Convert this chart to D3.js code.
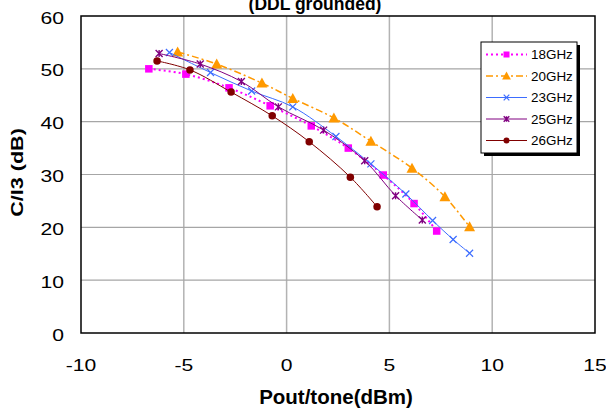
<!DOCTYPE html>
<html>
<head>
<meta charset="utf-8">
<script src="https://cdn.jsdelivr.net/npm/d3@7.9.0/dist/d3.min.js"></script>
<style>
  body { margin: 0; background: #fff; }
  svg { display: block; font-family: "Liberation Sans", Arial, sans-serif; }
</style>
</head>
<body>
<div id="chart"></div>
<script>
// --- data ---
const seriesNames = ['18GHz', '20GHz', '23GHz', '25GHz', '26GHz'];

const pout18 = [-6.7, -4.9, -2.8, -0.8, 1.2, 3.0, 4.7, 6.2, 7.3];
const ci18   = [50.0, 49.0, 46.4, 43.0, 39.2, 35.0, 29.9, 24.5, 19.3];

const pout20 = [-5.3, -3.4, -1.2, 0.3, 2.3, 4.1, 6.1, 7.7, 8.9];
const ci20   = [53.2, 50.9, 47.3, 44.4, 40.7, 36.3, 31.2, 25.8, 20.1];

const pout23 = [-5.7, -3.7, -1.7, 0.3, 2.4, 4.1, 5.8, 7.1, 8.1, 8.9];
const ci23   = [53.1, 49.3, 45.8, 42.8, 37.2, 32.0, 26.3, 21.3, 17.7, 15.1];

const pout25 = [-6.2, -4.2, -2.2, -0.4, 1.8, 3.8, 5.3, 6.6];
const ci25   = [52.9, 50.9, 47.6, 42.8, 38.4, 32.6, 26.0, 21.4];

const pout26 = [-6.3, -4.7, -2.7, -0.7, 1.1, 3.1, 4.4];
const ci26   = [51.5, 49.8, 45.6, 41.1, 36.2, 29.5, 23.9];

const xTicks = [-10, -5, 0, 5, 10, 15];
const yTicks = [0, 10, 20, 30, 40, 50, 60];

const title  = '(DDL grounded)';
const xTitle = 'Pout/tone(dBm)';
const yTitle = 'C/I3 (dB)';

// --- styling per series ---
const styles = [
  {color: '#ff00ff', width: 2,   dash: '2,3',     marker: 'square'},
  {color: '#ff9900', width: 1.5, dash: '7,3,2,3', marker: 'triangle'},
  {color: '#3d6dff', width: 1,   dash: null,      marker: 'x'},
  {color: '#800080', width: 1,   dash: null,      marker: 'star'},
  {color: '#800000', width: 1,   dash: null,      marker: 'circle'}
];

const series = [
  [pout18, ci18], [pout20, ci20], [pout23, ci23], [pout25, ci25], [pout26, ci26]
].map(([xs, ys], i) => ({
  name  : seriesNames[i],
  points: xs.map((x, j) => ({x, y: ys[j]})),
  ...styles[i]
}));

const W = 606, H = 410;
const P = {l: 81, r: 595, t: 16, b: 333};

const x = d3.scaleLinear().domain([-10, 15]).range([P.l, P.r]);
const y = d3.scaleLinear().domain([0, 60]).range([P.b, P.t]);

const svg = d3.select('#chart').append('svg')
  .attr('width', W).attr('height', H);

// gridlines
svg.append('g')
  .selectAll('line')
  .data(xTicks.slice(1, -1))
  .join('line')
    .attr('x1', d => x(d)).attr('x2', d => x(d))
    .attr('y1', P.t).attr('y2', P.b)
    .attr('stroke', '#b3b3b3').attr('stroke-width', 1.5);

svg.append('g')
  .selectAll('line')
  .data(yTicks.slice(1, -1))
  .join('line')
    .attr('x1', P.l).attr('x2', P.r)
    .attr('y1', d => y(d)).attr('y2', d => y(d))
    .attr('stroke', '#a6a6a6').attr('stroke-width', 1.2);

// plot frame
svg.append('rect')
  .attr('x', P.l).attr('y', P.t)
  .attr('width', P.r - P.l).attr('height', P.b - P.t)
  .attr('fill', 'none').attr('stroke', '#000').attr('stroke-width', 1.5);

// tick labels (the original text is a bit wide, hence the x-stretch)
const stretch = 1.32;
svg.append('g')
  .selectAll('text')
  .data(xTicks)
  .join('text')
    .attr('transform', d => `translate(${x(d)},371) scale(${stretch},1)`)
    .attr('text-anchor', 'middle')
    .attr('font-size', 16)
    .text(d => d);

svg.append('g')
  .selectAll('text')
  .data(yTicks)
  .join('text')
    .attr('transform', d => `translate(64,${y(d) + 7.5}) scale(${stretch},1)`)
    .attr('text-anchor', 'end')
    .attr('font-size', 16)
    .text(d => d);

// titles
svg.append('text')
  .attr('x', 315).attr('y', 9.5)
  .attr('text-anchor', 'middle')
  .attr('font-size', 17.5).attr('font-weight', 'bold')
  .text(title);

svg.append('text')
  .attr('x', 336).attr('y', 404)
  .attr('text-anchor', 'middle')
  .attr('font-size', 20.5).attr('font-weight', 'bold')
  .text(xTitle);

svg.append('text')
  .attr('transform', 'translate(23,172.5) rotate(-90) scale(1.27,1)')
  .attr('text-anchor', 'middle')
  .attr('font-size', 17).attr('font-weight', 'bold')
  .text(yTitle);

// markers
function drawMarker (g, type, color, s) {
  if (type === 'square') {
    g.append('rect').attr('x', -s / 2).attr('y', -s / 2)
      .attr('width', s).attr('height', s).attr('fill', color);
  } else if (type === 'triangle') {
    g.append('path').attr('d', `M0,${-s * 0.55}L${s * 0.55},${s * 0.45}L${-s * 0.55},${s * 0.45}Z`)
      .attr('fill', color);
  } else if (type === 'circle') {
    g.append('circle').attr('r', s / 2).attr('fill', color);
  } else if (type === 'x') {
    const h = s / 2;
    g.append('path').attr('d', `M${-h},${-h}L${h},${h}M${-h},${h}L${h},${-h}`)
      .attr('stroke', color).attr('stroke-width', 1.2).attr('fill', 'none');
  } else if (type === 'star') {
    const h = s / 2;
    g.append('path').attr('d', `M${-h},${-h}L${h},${h}M${-h},${h}L${h},${-h}M0,${-h}L0,${h}`)
      .attr('stroke', color).attr('stroke-width', 1.4).attr('fill', 'none');
  }
}

const markerSize = {square: 7.5, triangle: 10, x: 7, star: 7, circle: 7.5};

const line = d3.line()
  .x(d => x(d.x)).y(d => y(d.y))
  .curve(d3.curveCatmullRom.alpha(0.5));

const plot = svg.append('g');
series.forEach(s => {
  plot.append('path')
    .attr('d', line(s.points))
    .attr('fill', 'none')
    .attr('stroke', s.color)
    .attr('stroke-width', s.width)
    .attr('stroke-dasharray', s.dash);
  plot.append('g').selectAll('g')
    .data(s.points)
    .join('g')
      .attr('transform', d => `translate(${x(d.x)},${y(d.y)})`)
      .each(function () { drawMarker(d3.select(this), s.marker, s.color, markerSize[s.marker]); });
});

// legend
const L = {x: 481, y: 42, w: 96, h: 111};
const leg = svg.append('g');
leg.append('rect')
  .attr('x', L.x + 3).attr('y', L.y + 3).attr('width', L.w).attr('height', L.h)
  .attr('fill', '#000');
leg.append('rect')
  .attr('x', L.x).attr('y', L.y).attr('width', L.w).attr('height', L.h)
  .attr('fill', '#fff').attr('stroke', '#000').attr('stroke-width', 1);

series.forEach((s, i) => {
  const cy = 54.5 + i * 21.5;
  const g = leg.append('g');
  g.append('line')
    .attr('x1', 486).attr('x2', 527).attr('y1', cy).attr('y2', cy)
    .attr('stroke', s.color).attr('stroke-width', s.width)
    .attr('stroke-dasharray', s.dash);
  drawMarker(g.append('g').attr('transform', `translate(506.5,${cy})`),
    s.marker, s.color, markerSize[s.marker] * 0.8);
  g.append('text')
    .attr('transform', `translate(531,${cy + 4.5}) scale(1.12,1)`)
    .attr('font-size', 12)
    .text(s.name);
});
</script>
</body>
</html>
